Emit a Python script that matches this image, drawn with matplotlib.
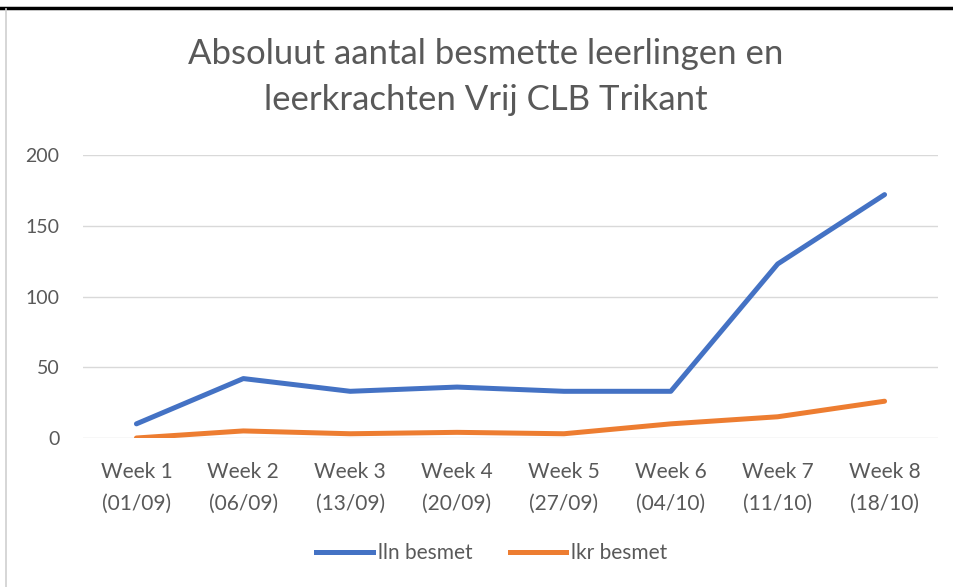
import matplotlib.pyplot as plt
from matplotlib.lines import Line2D

weeks = ["Week 1\n(01/09)", "Week 2\n(06/09)", "Week 3\n(13/09)", "Week 4\n(20/09)",
         "Week 5\n(27/09)", "Week 6\n(04/10)", "Week 7\n(11/10)", "Week 8\n(18/10)"]
lln_besmet = [10, 42, 33, 36, 33, 33, 123, 172]
lkr_besmet = [0, 5, 3, 4, 3, 10, 15, 26]
y_ticks = [0, 50, 100, 150, 200]

plt.rcParams['font.family'] = ['Lato', 'DejaVu Sans']
grey = '#595959'

W, H = 954, 587
fig = plt.figure(figsize=(W / 100, H / 100), dpi=100)
ax = fig.add_axes([83 / W, (H - 438) / H, (938 - 83) / W, (438 - 155) / H])

x = range(len(weeks))
ax.plot(x, lln_besmet, color='#4472C4', lw=3.6, solid_capstyle='round', label='lln besmet')
ax.plot(x, lkr_besmet, color='#ED7D31', lw=3.6, solid_capstyle='round', label='lkr besmet')

ax.set_xlim(-0.5, len(weeks) - 0.5)
ax.set_ylim(0, 200)
ax.set_yticks(y_ticks)
ax.set_xticks(list(x))
ax.set_xticklabels(weeks, linespacing=1.75, fontsize=15)
ax.tick_params(axis='both', length=0, colors=grey)
ax.tick_params(axis='y', pad=17, labelsize=14)
ax.tick_params(axis='x', pad=17)
ax.grid(axis='y', color='#D9D9D9', lw=1)
ax.set_axisbelow(True)
for s in ax.spines.values():
    s.set_visible(False)

fig.text(486 / W, 1 - 77 / H, "Absoluut aantal besmette leerlingen en\nleerkrachten Vrij CLB Trikant",
         ha='center', va='center', fontsize=25, color=grey, linespacing=1.55)

handles = [Line2D([], [], color='#4472C4', lw=3.6), Line2D([], [], color='#ED7D31', lw=3.6)]
fig.legend(handles, ['lln besmet', 'lkr besmet'], loc='center', bbox_to_anchor=(492 / W, 1 - 553 / H),
           ncol=2, frameon=False, fontsize=15, labelcolor=grey, handlelength=2.7,
           handletextpad=0.25, columnspacing=1.8)

# screenshot frame: thick black top edge, thin grey left edge
fig.add_artist(Line2D([0, 1], [1 - 8 / H, 1 - 8 / H], color='black', lw=2.5, transform=fig.transFigure))
fig.add_artist(Line2D([6.5 / W, 6.5 / W], [0, 1 - 9 / H], color='#D0D0D0', lw=1.2, transform=fig.transFigure))

fig.savefig('out.png', dpi=100)
